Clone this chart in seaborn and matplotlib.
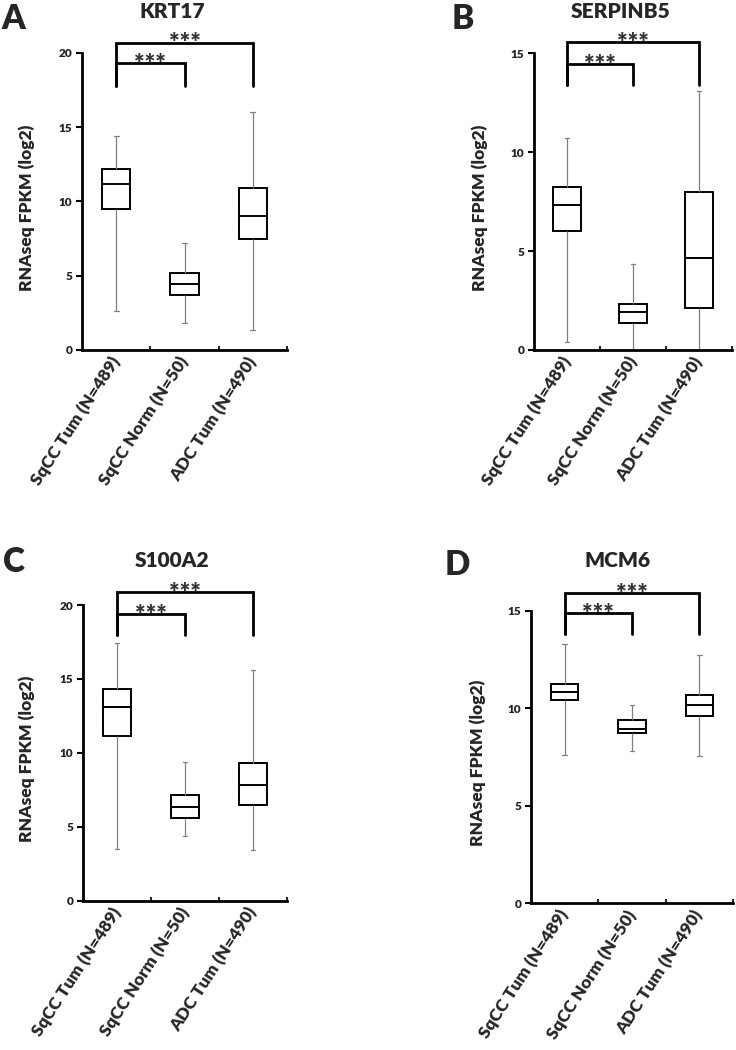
import numpy as np
import pandas as pd
import matplotlib
matplotlib.use("Agg")
import matplotlib.pyplot as plt
import seaborn as sns

# ---- data: five-number summaries [min, Q1, median, Q3, max] per group ----
groups = ["SqCC Tum (N=489)", "SqCC Norm (N=50)", "ADC Tum (N=490)"]

krt17 = [[2.6, 9.5, 11.2, 12.2, 14.4],
         [1.8, 3.7, 4.45, 5.2, 7.2],
         [1.35, 7.45, 9.0, 10.9, 16.0]]
serpinb5 = [[0.4, 6.0, 7.33, 8.26, 10.7],
            [0.0, 1.35, 1.9, 2.34, 4.33],
            [0.0, 2.1, 4.67, 8.0, 13.1]]
s100a2 = [[3.5, 11.15, 13.13, 14.35, 17.4],
          [4.4, 5.56, 6.33, 7.14, 9.36],
          [3.4, 6.5, 7.8, 9.3, 15.6]]
mcm6 = [[7.6, 10.42, 10.82, 11.22, 13.27],
        [7.8, 8.73, 8.96, 9.38, 10.15],
        [7.55, 9.6, 10.19, 10.7, 12.75]]

genes = ["KRT17", "SERPINB5", "S100A2", "MCM6"]
panel_letters = ["A", "B", "C", "D"]
y_max = [20, 15, 20, 15]
y_ticks = [[0, 5, 10, 15, 20], [0, 5, 10, 15], [0, 5, 10, 15, 20], [0, 5, 10, 15]]
# bracket heights: (outer, inner, bottom) in data units
brackets = [(20.7, 19.3, 17.8), (15.55, 14.46, 13.4), (20.85, 19.39, 18.0), (15.91, 14.86, 13.79)]
stars = "***"
ylabel = "RNAseq FPKM (log2)"
summaries = [krt17, serpinb5, s100a2, mcm6]

sns.set_style("white")
plt.rcParams["font.family"] = ["Lato", "DejaVu Sans"]
plt.rcParams["font.weight"] = "heavy"

W, H = 736, 1050
fig = plt.figure(figsize=(W / 100, H / 100), dpi=100)

# axes boxes in pixels: left, top, right, bottom
ax_px = [(82, 53, 287, 350), (534, 53.3, 732, 350), (83, 605, 287, 900.7), (531, 610.7, 733, 903.3)]
ylabel_x_px = [35, 488, 35, 486]
letter_px = [(1, 3), (452, 3), (3, 546), (445, 549)]
title_px = [(172, 2), (621, 2), (172, 551), (618, 551)]

for i, gene in enumerate(genes):
    l, t, r, b = ax_px[i]
    ax = fig.add_axes([l / W, 1 - b / H, (r - l) / W, (b - t) / H])
    rows = []
    for g, vals in zip(groups, summaries[i]):
        for v in vals:
            rows.append({"group": g, "value": v})
    df = pd.DataFrame(rows)
    sns.boxplot(data=df, x="group", y="value", order=groups, ax=ax,
                whis=(0, 100), width=0.41, color="white", linecolor="black",
                linewidth=1.4, showfliers=False,
                boxprops=dict(facecolor="white", edgecolor="black", linewidth=1.4),
                medianprops=dict(color="black", linewidth=1.4),
                whiskerprops=dict(color="#808080", linewidth=0.9),
                capprops=dict(color="#808080", linewidth=0.9),
                capwidths=0.07)
    ax.set_xlim(-0.5, 2.5)
    ax.set_ylim(0, y_max[i])
    ax.set_yticks(y_ticks[i])
    ax.set_yticklabels([str(v) for v in y_ticks[i]], fontsize=8.5, fontweight="heavy", color="#222222")
    ax.tick_params(axis="y", direction="out", length=4, width=1.5, color="black", pad=3, left=True)
    ax.set_xticks(range(3))
    ax.set_xticklabels(groups, rotation=57, ha="right", va="center",
                       rotation_mode="anchor", fontsize=12.5, fontweight="heavy")
    ax.tick_params(axis="x", length=0, pad=6)
    ax.set_xticks([0.5, 1.5, 2.5], minor=True)
    ax.tick_params(axis="x", which="minor", direction="in", length=3, width=1.5, bottom=True)
    ax.set_xlabel("")
    ax.set_ylabel(ylabel, fontsize=12.5, fontweight="heavy")
    ax.yaxis.set_label_coords((ylabel_x_px[i] - l) / (r - l), 0.48)
    for s in ["top", "right"]:
        ax.spines[s].set_visible(False)
    for s in ["left", "bottom"]:
        ax.spines[s].set_linewidth(2)
        ax.spines[s].set_color("black")
    ax.grid(False)

    outer, inner, bot = brackets[i]
    ax.plot([0, 0, 1, 1], [bot, inner, inner, bot], color="black", lw=2, clip_on=False,
            solid_joinstyle="miter")
    ax.plot([0, 0, 2, 2], [bot, outer, outer, bot], color="black", lw=2, clip_on=False,
            solid_joinstyle="miter")
    ax.annotate(stars, xy=(0.5, inner), xytext=(0, -5.5), textcoords="offset points",
                ha="center", va="baseline", fontsize=18, color="#333333", annotation_clip=False)
    ax.annotate(stars, xy=(1.0, outer), xytext=(0, -5.5), textcoords="offset points",
                ha="center", va="baseline", fontsize=18, color="#333333", annotation_clip=False)

    lx, ly = letter_px[i]
    fig.text(lx / W, 1 - ly / H, panel_letters[i], ha="left", va="top",
             fontsize=24, fontweight="heavy")
    tx, ty = title_px[i]
    fig.text(tx / W, 1 - ty / H, gene, ha="center", va="top",
             fontsize=15, fontweight="heavy")

fig.savefig("out.png", dpi=100, facecolor="white")
